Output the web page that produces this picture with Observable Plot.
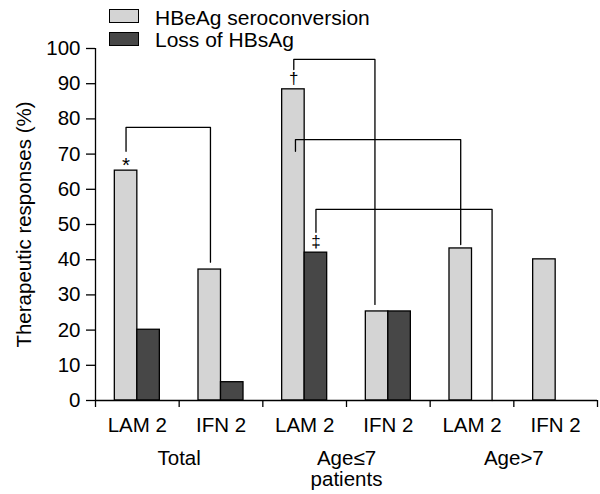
<!DOCTYPE html>
<html>
<head>
<meta charset="utf-8">
<script src="https://cdn.jsdelivr.net/npm/d3@7"></script>
<script src="https://cdn.jsdelivr.net/npm/@observablehq/plot@0.6"></script>
<style>
  body { margin: 0; background: #fff; font-family: "Liberation Sans", Arial, sans-serif; }
  #wrap { position: relative; width: 600px; height: 494px; }
  #legend { position: absolute; left: 0; top: 0; width: 600px; height: 60px; font-size: 21px; color: #000; }
  .sw { position: absolute; left: 108.5px; width: 30.5px; height: 14px; box-sizing: border-box; border: 1.3px solid #000; }
  .lab { position: absolute; left: 155px; line-height: 21px; white-space: nowrap; }
</style>
</head>
<body>
<div id="wrap">
  <div id="chart"></div>
  <div id="legend"></div>
</div>
<script>
// ---- data ----
const groups = ["Total", "Age≤7\npatients", "Age>7"];
const treatments = ["LAM 2", "IFN 2", "LAM 2", "IFN 2", "LAM 2", "IFN 2"];
const seriesNames = ["HBeAg seroconversion", "Loss of HBsAg"];
const hbeagSeroconversion = [65.3, 37.2, 88.4, 25.3, 43.2, 40.1];
const lossOfHBsAg = [20.1, 5.2, 42.0, 25.3, null, null];
const yTicks = [0, 10, 20, 30, 40, 50, 60, 70, 80, 90, 100];

// significance brackets (x in category units, y in %)
const bracketX1 = [0.365, 2.37, 2.39, 2.635];
const bracketY1 = [70.8, 94.0, 70.8, 47.8];
const bracketTop = [77.6, 96.9, 74.1, 54.3];
const bracketX2 = [1.374, 3.34, 4.365, 4.74];
const bracketY2 = [39.3, 27.3, 44.3, 0];
const bracketSymbol = ["*", "†", "", "‡"];
const symbolY = [66.7, 91.5, null, 45.2];
const symbolSize = [20.5, 17, 0, 17];

const colors = ["#d4d4d4", "#474747"];
const barW = 0.269;

const bars = [];
treatments.forEach((t, i) => {
  if (hbeagSeroconversion[i] != null) bars.push({series: seriesNames[0], v: hbeagSeroconversion[i], x1: i + 0.5 - barW, x2: i + 0.5});
  if (lossOfHBsAg[i] != null) bars.push({series: seriesNames[1], v: lossOfHBsAg[i], x1: i + 0.5, x2: i + 0.5 + barW});
});

const bracketPts = [];
bracketX1.forEach((x1, k) => {
  bracketPts.push({id: k, x: x1, y: bracketY1[k]});
  bracketPts.push({id: k, x: x1, y: bracketTop[k]});
  bracketPts.push({id: k, x: bracketX2[k], y: bracketTop[k]});
  bracketPts.push({id: k, x: bracketX2[k], y: bracketY2[k]});
});
const symbols = bracketSymbol.map((s, k) => ({s, x: bracketX1[k], y: symbolY[k], size: symbolSize[k]})).filter(d => d.s);

const font = "'Liberation Sans', Arial, sans-serif";

const chart = Plot.plot({
  width: 600,
  height: 494,
  marginLeft: 95,
  marginRight: 3,
  marginTop: 48,
  marginBottom: 94,
  style: {fontFamily: font, fontSize: "20.5px", color: "#000", background: "#fff"},
  x: {type: "linear", domain: [0, 6]},
  y: {domain: [0, 100]},
  color: {domain: seriesNames, range: colors},
  marks: [
    Plot.rectY(bars, {x1: "x1", x2: "x2", y1: 0, y2: "v", fill: "series", stroke: "#000", strokeWidth: 1.3}),
    Plot.line(bracketPts, {x: "x", y: "y", z: "id", stroke: "#000", strokeWidth: 1.3}),
    ...symbols.map(d => Plot.text([d], {x: "x", y: "y", text: "s", fontSize: d.size, fill: "#000"})),
    Plot.ruleX([0], {y1: 0, y2: 100, stroke: "#000", strokeWidth: 1.3}),
    Plot.ruleY([0], {stroke: "#000", strokeWidth: 1.3}),
    Plot.axisY({ticks: yTicks, tickSize: 9, tickPadding: 6, fontSize: 20.5, label: null, strokeWidth: 1.3}),
    Plot.axisX({ticks: d3.range(0, 7), tickSize: 7, tickFormat: () => "", label: null, strokeWidth: 1.3}),
    Plot.text(treatments, {x: (d, i) => i + 0.5, frameAnchor: "bottom", lineAnchor: "top", dy: 17, fontSize: 20.5, fill: "#000"}),
    Plot.text(groups, {x: (d, i) => 2 * i + 1, frameAnchor: "bottom", lineAnchor: "top", dy: 49.5, lineHeight: 1.03, fontSize: 20.5, fill: "#000"}),
    Plot.text(["Therapeutic responses (%)"], {frameAnchor: "left", textAnchor: "middle", rotate: -90, dx: -71.5, fontSize: 20.5, fill: "#000"})
  ]
});
document.getElementById("chart").appendChild(chart);

const legend = document.getElementById("legend");
const swTop = [9.3, 32.3];
const labTop = [7.2, 28.9];
seriesNames.forEach((name, k) => {
  const sw = document.createElement("div");
  sw.className = "sw";
  sw.style.top = swTop[k] + "px";
  sw.style.background = colors[k];
  legend.appendChild(sw);
  const lab = document.createElement("div");
  lab.className = "lab";
  lab.style.top = labTop[k] + "px";
  lab.textContent = name;
  legend.appendChild(lab);
});
</script>
</body>
</html>
